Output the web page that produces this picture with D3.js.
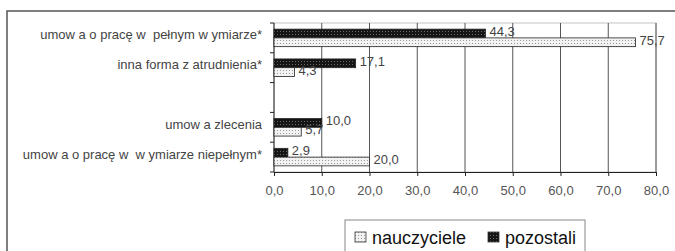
<!DOCTYPE html>
<html>
<head>
<meta charset="utf-8">
<script src="https://cdn.jsdelivr.net/npm/d3@7"></script>
<style>
  body { margin: 0; background: #fff; }
  text { font-family: "Liberation Sans", Arial, sans-serif; white-space: pre; }
</style>
</head>
<body>
<script>
// categories, top to bottom (one empty slot like in the original)
var categories = [
  "umow a o pracę w  pełnym w ymiarze*",
  "inna forma z atrudnienia*",
  "",
  "umow a zlecenia",
  "umow a o pracę w  w ymiarze niepełnym*"
];
var pozostali   = [44.3, 17.1, null, 10.0, 2.9];
var nauczyciele = [75.7, 4.3, null, 5.7, 20.0];
var xTicks = [0, 10, 20, 30, 40, 50, 60, 70, 80];
var seriesNames = ["nauczyciele", "pozostali"];

(function() {

var width = 675, height = 251,
    pl = 274, pr = 656, pt = 23, pb = 172; // plot area edges

var svg = d3.select("body").append("svg")
  .attr("width", width)
  .attr("height", height);

// patterns for the bars
var defs = svg.append("defs");
var pDark = defs.append("pattern")
  .attr("id", "pDark").attr("patternUnits", "userSpaceOnUse")
  .attr("width", 3).attr("height", 3);
pDark.append("rect").attr("width", 3).attr("height", 3).attr("fill", "#151515");
pDark.append("rect").attr("x", 1).attr("y", 1).attr("width", 1).attr("height", 1).attr("fill", "#6a6a6a");

var pLight = defs.append("pattern")
  .attr("id", "pLight").attr("patternUnits", "userSpaceOnUse")
  .attr("width", 3).attr("height", 3);
pLight.append("rect").attr("width", 3).attr("height", 3).attr("fill", "#f2f2f2");
pLight.append("rect").attr("x", 1).attr("y", 1).attr("width", 1).attr("height", 1).attr("fill", "#9a9a9a");

// outer frame (cut off at right and bottom)
svg.append("rect")
  .attr("x", 7).attr("y", 11).attr("width", 720).attr("height", 300)
  .attr("fill", "none").attr("stroke", "#555").attr("stroke-width", 1.5);

var x = d3.scaleLinear().domain([0, 80]).range([pl, pr]);
var y = d3.scaleBand().domain(d3.range(categories.length)).range([pt, pb]);
var inner = d3.scaleBand().domain(["pozostali", "nauczyciele"])
  .range([0, y.bandwidth()]).paddingOuter(0.7);

// plot area border
svg.append("rect")
  .attr("x", pl).attr("y", pt)
  .attr("width", pr - pl).attr("height", pb - pt)
  .attr("fill", "none").attr("stroke", "#c4c4c4");

// vertical grid lines
svg.append("g").selectAll("line")
  .data(xTicks.slice(1))
  .enter().append("line")
    .attr("x1", function(d) { return x(d); })
    .attr("x2", function(d) { return x(d); })
    .attr("y1", pt).attr("y2", pb)
    .attr("stroke", "#555").attr("stroke-width", 1);

// bottom axis
var xAxis = d3.axisBottom(x).tickValues(xTicks).tickSize(4).tickSizeOuter(0)
  .tickFormat(function(d) { return d3.format(".1f")(d).replace(".", ","); });
var gx = svg.append("g").attr("transform", "translate(0," + pb + ")").call(xAxis);
gx.select(".domain").attr("stroke", "#222");
gx.selectAll(".tick line").attr("stroke", "#222");
gx.selectAll(".tick text")
  .attr("y", 14).attr("fill", "#555")
  .style("font-size", "13px").style("font-family", "'Liberation Sans', Arial, sans-serif");

// left axis: ticks at category boundaries
var gy = svg.append("g");
gy.append("line")
  .attr("x1", pl).attr("x2", pl).attr("y1", pt).attr("y2", pb)
  .attr("stroke", "#222");
gy.selectAll("line.tk")
  .data(d3.range(categories.length + 1))
  .enter().append("line").attr("class", "tk")
    .attr("x1", pl - 4).attr("x2", pl)
    .attr("y1", function(i) { return pt + i * y.step(); })
    .attr("y2", function(i) { return pt + i * y.step(); })
    .attr("stroke", "#222");

// category labels
svg.append("g").selectAll("text")
  .data(categories)
  .enter().append("text")
    .attr("x", 262)
    .attr("y", function(d, i) { return y(i) + y.bandwidth() / 2 - 2; })
    .attr("text-anchor", "end")
    .attr("dominant-baseline", "middle")
    .attr("fill", "#444")
    .style("font-size", "13px")
    .text(function(d) { return d; });

// bars
var rows = [];
categories.forEach(function(c, i) {
  if (pozostali[i] != null) rows.push({ i: i, s: "pozostali", v: pozostali[i] });
  if (nauczyciele[i] != null) rows.push({ i: i, s: "nauczyciele", v: nauczyciele[i] });
});

svg.append("g").selectAll("rect")
  .data(rows)
  .enter().append("rect")
    .attr("x", x(0))
    .attr("y", function(d) { return y(d.i) + inner(d.s); })
    .attr("width", function(d) { return x(d.v) - x(0); })
    .attr("height", inner.bandwidth())
    .attr("fill", function(d) { return d.s == "pozostali" ? "url(#pDark)" : "url(#pLight)"; })
    .attr("stroke", "#222").attr("stroke-width", 0.8);

// value labels
svg.append("g").selectAll("text")
  .data(rows)
  .enter().append("text")
    .attr("x", function(d) { return x(d.v) + 4; })
    .attr("y", function(d) { return y(d.i) + inner(d.s) + inner.bandwidth() / 2 - 1; })
    .attr("dominant-baseline", "middle")
    .attr("fill", "#444")
    .style("font-size", "13px")
    .text(function(d) { return d3.format(".1f")(d.v).replace(".", ","); });

// legend
var lg = svg.append("g");
lg.append("rect")
  .attr("x", 345).attr("y", 220).attr("width", 240).attr("height", 60)
  .attr("fill", "#fff").attr("stroke", "#888");
var lx = [355, 488];
lg.selectAll("rect.sw")
  .data(seriesNames)
  .enter().append("rect").attr("class", "sw")
    .attr("x", function(d, i) { return lx[i]; })
    .attr("y", 232).attr("width", 11).attr("height", 10)
    .attr("fill", function(d) { return d == "pozostali" ? "url(#pDark)" : "url(#pLight)"; })
    .attr("stroke", "#333").attr("stroke-width", 0.8);
lg.selectAll("text")
  .data(seriesNames)
  .enter().append("text")
    .attr("x", function(d, i) { return lx[i] + 17; })
    .attr("y", 244)
    .attr("fill", "#111")
    .style("font-size", "18px")
    .text(function(d) { return d; });

})();
</script>
</body>
</html>
